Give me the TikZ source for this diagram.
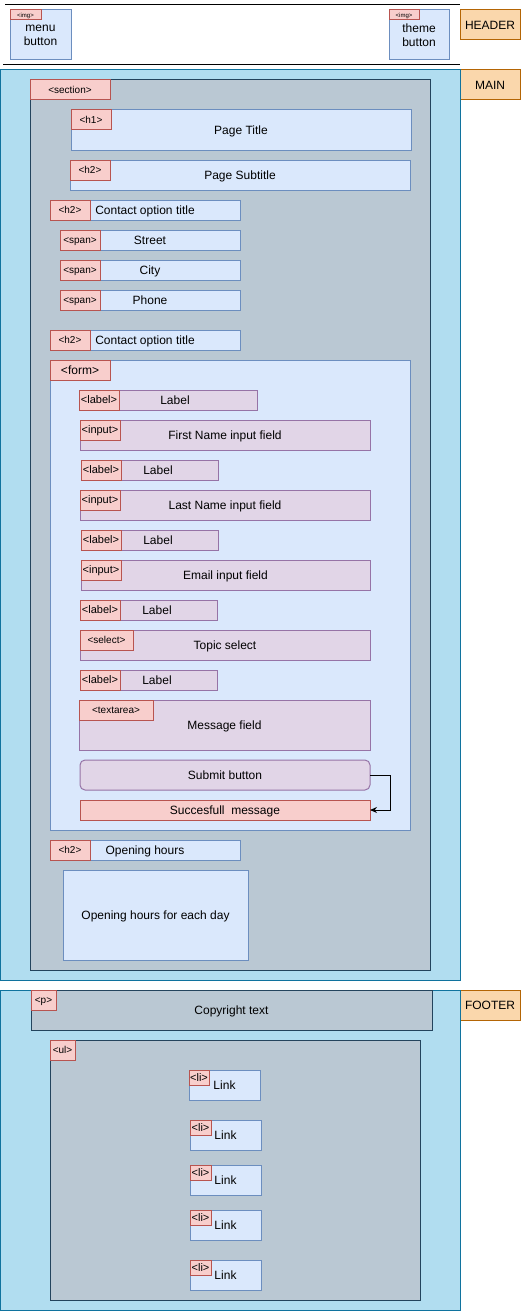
\documentclass[tikz,border=0pt]{standalone}
\usepackage{fontspec}
\setmainfont{Liberation Sans}
\usetikzlibrary{arrows.meta}
\definecolor{bfill}{HTML}{DAE8FC}\definecolor{bline}{HTML}{6C8EBF}
\definecolor{pfill}{HTML}{E1D5E7}\definecolor{pline}{HTML}{9673A6}
\definecolor{rfill}{HTML}{F8CECC}\definecolor{rline}{HTML}{B85450}
\definecolor{mfill}{HTML}{B1DDF0}\definecolor{mline}{HTML}{10739E}
\definecolor{sfill}{HTML}{BAC8D3}\definecolor{sline}{HTML}{23445D}
\definecolor{ofill}{HTML}{FAD7AC}\definecolor{oline}{HTML}{B46504}
\newcommand\tagsz[1]{\fontsize{#1}{#1}\selectfont}
\newcommand\mybox[7]{\node[#1,anchor=north west,minimum width={(#5-#3)*1pt},minimum height={(#6-#4)*1pt}] (#2) at (#3,#4) {#7};}
\begin{document}
\begin{tikzpicture}[x=1pt,y=-1pt,
  every node/.style={inner sep=0pt,outer sep=0pt,align=center,font=\fontsize{12}{14}\selectfont,text height=8.6pt,text depth=0pt},
  multi/.style={text height=,text depth=},
  bluebox/.style={draw=bline,fill=bfill,line width=1pt},
  purplebox/.style={draw=pline,fill=pfill,line width=1pt},
  redtag/.style={draw=rline,fill=rfill,line width=1pt},
  mainbox/.style={draw=mline,fill=mfill,line width=1pt},
  sectbox/.style={draw=sline,fill=sfill,line width=1pt},
  orangebox/.style={draw=oline,fill=ofill,line width=1pt},
  t6/.style={font=\tagsz{6},text height=4.3pt},
  t10/.style={font=\tagsz{10},text height=7.2pt},
  t11/.style={font=\tagsz{11},text height=7.9pt},
  t12/.style={font=\tagsz{12},text height=8.6pt},
  hline/.style={draw=black,line width=1pt},
  conn/.style={draw=black,line width=1pt,-{Stealth[length=7pt,width=6pt]}}]
\useasboundingbox (0,0) rectangle (521,1311);
% header
\coordinate (htl) at (5,5); \coordinate (htr) at (460,5);
\coordinate (hbl) at (3,65); \coordinate (hbr) at (460,65);
\draw[hline] (htl) -- (htr);
\draw[hline] (hbl) -- (hbr);
\mybox{bluebox,multi}{menu}{10}{10}{71}{60}{menu\\button}
\mybox{redtag,t6}{menutag}{10}{10}{41}{20}{<img>}
\mybox{bluebox,multi}{theme}{389}{10}{449}{60}{theme\\button}
\mybox{redtag,t6}{themetag}{389}{10}{419}{20}{<img>}
\mybox{orangebox}{HEADER}{460}{10}{520}{40}{HEADER}
\mybox{orangebox}{MAIN}{460}{70}{520}{100}{MAIN}
\mybox{orangebox}{FOOTER}{460}{990}{520}{1020}{FOOTER}
% main
\mybox{mainbox}{main}{0}{70}{460}{980}{}
\mybox{sectbox}{sect}{30}{80}{430}{970}{}
\mybox{redtag,t10}{secttag}{30}{80}{110}{100}{<section>}
\mybox{bluebox}{hone}{71}{110}{411}{150}{Page Title}
\mybox{redtag,t10}{honetag}{71}{110}{111}{130}{<h1>}
\mybox{bluebox}{htwo}{70}{160}{410}{190}{Page Subtitle}
\mybox{redtag,t10}{htwotag}{70}{160}{110}{180}{<h2>}
\mybox{bluebox}{cone}{50}{200}{240}{220}{Contact option title}
\mybox{redtag,t10}{conetag}{50}{200}{90}{220}{<h2>}
\mybox{bluebox}{street}{60}{230}{240}{250}{Street}
\mybox{redtag,t10}{streettag}{60}{230}{100}{250}{<span>}
\mybox{bluebox}{city}{60}{260}{240}{280}{City}
\mybox{redtag,t10}{citytag}{60}{260}{100}{280}{<span>}
\mybox{bluebox}{phone}{60}{290}{240}{310}{Phone}
\mybox{redtag,t10}{phonetag}{60}{290}{100}{310}{<span>}
\mybox{bluebox}{ctwo}{50}{330}{240}{350}{Contact option title}
\mybox{redtag,t10}{ctwotag}{50}{330}{90}{350}{<h2>}
% form
\mybox{bluebox}{form}{50}{360}{410}{830}{}
\mybox{redtag,t12}{formtag}{50}{360}{110}{380}{<form>}
\mybox{purplebox}{labone}{79}{390}{257}{410}{}
\mybox{redtag,t11}{labonetag}{79}{390}{119}{410}{<label>}
\node (labonetext) at (175,400) {Label};
\mybox{purplebox}{fname}{80}{420}{370}{450}{First Name input field}
\mybox{redtag,t11}{fnametag}{80}{420}{120}{440}{<input>}
\mybox{purplebox}{labtwo}{81}{460}{218}{480}{}
\mybox{redtag,t11}{labtwotag}{81}{460}{121}{480}{<label>}
\node (labtwotext) at (158,470) {Label};
\mybox{purplebox}{lname}{80}{490}{370}{520}{Last Name input field}
\mybox{redtag,t11}{lnametag}{80}{490}{120}{510}{<input>}
\mybox{purplebox}{labthree}{81}{530}{218}{550}{}
\mybox{redtag,t11}{labthreetag}{81}{530}{121}{550}{<label>}
\node (labthreetext) at (158,540) {Label};
\mybox{purplebox}{email}{81}{560}{370}{590}{Email input field}
\mybox{redtag,t11}{emailtag}{81}{560}{121}{580}{<input>}
\mybox{purplebox}{labfour}{80}{600}{217}{620}{}
\mybox{redtag,t11}{labfourtag}{80}{600}{120}{620}{<label>}
\node (labfourtext) at (157,610) {Label};
\mybox{purplebox}{topic}{80}{630}{370}{660}{Topic select}
\mybox{redtag,t10}{topictag}{80}{630}{133}{650}{<select>}
\mybox{purplebox}{labfive}{80}{670}{217}{690}{}
\mybox{redtag,t11}{labfivetag}{80}{670}{120}{690}{<label>}
\node (labfivetext) at (157,680) {Label};
\mybox{purplebox}{msg}{79}{700}{370}{750}{Message field}
\mybox{redtag,t10}{msgtag}{79}{700}{153}{720}{<textarea>}
\mybox{purplebox,rounded corners=5pt}{submit}{80}{760}{370}{790}{Submit button}
\mybox{redtag}{success}{80}{800}{370}{820}{Succesfull\ \ message}
\coordinate (bend) at (390,775);
\draw[conn] (submit.east) -- (bend) |- (success.east);
% opening hours
\mybox{bluebox}{oh}{50}{840}{240}{860}{Opening hours}
\mybox{redtag,t10}{ohtag}{50}{840}{90}{860}{<h2>}
\mybox{bluebox}{ohdays}{63}{870}{248}{960}{Opening hours for each day}
% footer
\mybox{mainbox}{footer}{0}{990}{460}{1310}{}
\mybox{sectbox}{copy}{31}{990}{432}{1030}{Copyright text}
\mybox{redtag,t10}{copytag}{31}{990}{56}{1010}{<p>}
\mybox{sectbox}{ul}{50}{1040}{420}{1300}{}
\mybox{redtag,t10}{ultag}{50}{1040}{75}{1060}{<ul>}
\mybox{bluebox}{lione}{189}{1070}{260}{1100}{Link}
\mybox{redtag,t11}{lionetag}{189}{1070}{209}{1085}{<li>}
\mybox{bluebox}{litwo}{190}{1120}{261}{1150}{Link}
\mybox{redtag,t11}{litwotag}{190}{1120}{211}{1135}{<li>}
\mybox{bluebox}{lithree}{190}{1165}{261}{1195}{Link}
\mybox{redtag,t11}{lithreetag}{190}{1165}{211}{1180}{<li>}
\mybox{bluebox}{lifour}{190}{1210}{261}{1240}{Link}
\mybox{redtag,t11}{lifourtag}{190}{1210}{211}{1225}{<li>}
\mybox{bluebox}{lifive}{190}{1260}{261}{1290}{Link}
\mybox{redtag,t11}{lifivetag}{190}{1260}{211}{1275}{<li>}
\end{tikzpicture}
\end{document}
